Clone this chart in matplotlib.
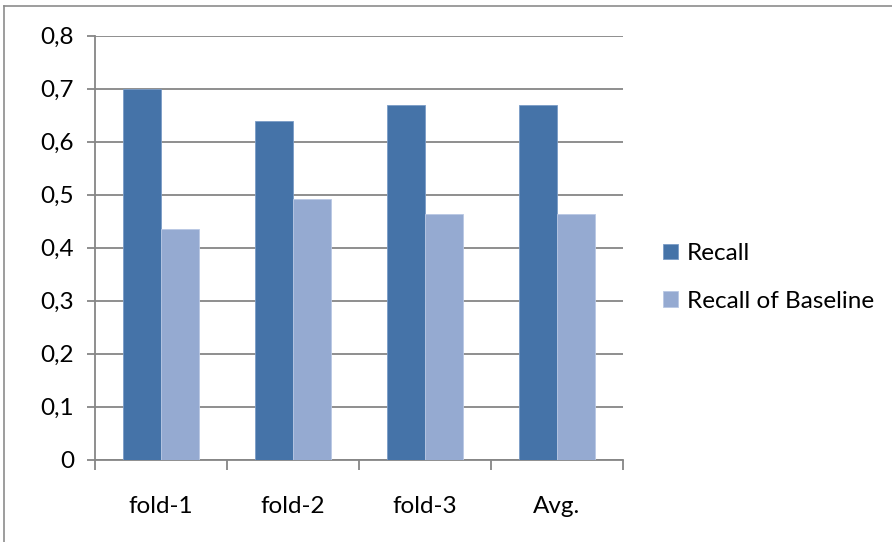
import matplotlib
matplotlib.use("Agg")
import matplotlib.pyplot as plt
from matplotlib.lines import Line2D
import numpy as np

categories = ["fold-1", "fold-2", "fold-3", "Avg."]
recall = [0.700, 0.640, 0.669, 0.670]
recall_baseline = [0.435, 0.491, 0.463, 0.463]
series_names = ["Recall", "Recall of Baseline"]
y_ticks = [0.0, 0.1, 0.2, 0.3, 0.4, 0.5, 0.6, 0.7, 0.8]

plt.rcParams['font.family'] = ['Lato', 'DejaVu Sans']

W, H = 892, 542
fig = plt.figure(figsize=(W / 100, H / 100), dpi=100)
ax = fig.add_axes([95 / W, 1 - 459.7 / H, (623 - 95) / W, (459.7 - 35.7) / H])

dark = "#4573A8"
light = "#95AAD1"
grid_c = "#868686"
fs = 17.5

x = np.arange(len(categories))
bw = 0.285
ax.bar(x - bw / 2, recall, bw, color=dark, edgecolor="#7A9CC6", linewidth=0.6,
       label=series_names[0], zorder=3)
ax.bar(x + bw / 2, recall_baseline, bw, color=light, edgecolor="#B9C8E4", linewidth=0.6,
       label=series_names[1], zorder=3)

ax.set_xlim(-0.5, len(categories) - 0.5)
ax.set_ylim(0, 0.8)
ax.set_yticks(y_ticks)
ax.set_yticklabels(["0" if v == 0 else f"{v:.1f}".replace(".", ",") for v in y_ticks])
ax.yaxis.grid(True, color=grid_c, linewidth=1.3, zorder=0)
ax.set_axisbelow(True)

# category labels centered, tick marks on the category boundaries
ax.set_xticks(x)
ax.set_xticklabels(categories)
ax.tick_params(axis="x", length=0, pad=26, labelsize=fs)
ax.set_xticks(np.arange(-0.5, len(categories)), minor=True)
ax.tick_params(axis="x", which="minor", length=7, width=1.3, color=grid_c, direction="out")
ax.tick_params(axis="y", length=6, width=1.3, color=grid_c, direction="out",
               labelsize=fs, pad=9)

for s in ["top", "right"]:
    ax.spines[s].set_visible(False)
for s in ["left", "bottom"]:
    ax.spines[s].set_color(grid_c)
    ax.spines[s].set_linewidth(1.3)

leg = fig.legend(loc="upper left", bbox_to_anchor=(646 / W, 1 - 226 / H),
                 frameon=False, fontsize=fs, handlelength=0.62, handleheight=0.62,
                 handletextpad=0.35, labelspacing=1.1, borderpad=0.2)

# chart-area border
fig.add_artist(Line2D([4 / W, 4 / W], [0, 1 - 6 / H], color="#8C8C8C", linewidth=1.2))
fig.add_artist(Line2D([4 / W, 1], [1 - 6 / H, 1 - 6 / H], color="#8C8C8C", linewidth=1.2))

fig.savefig("out.png", dpi=100, facecolor="white")
